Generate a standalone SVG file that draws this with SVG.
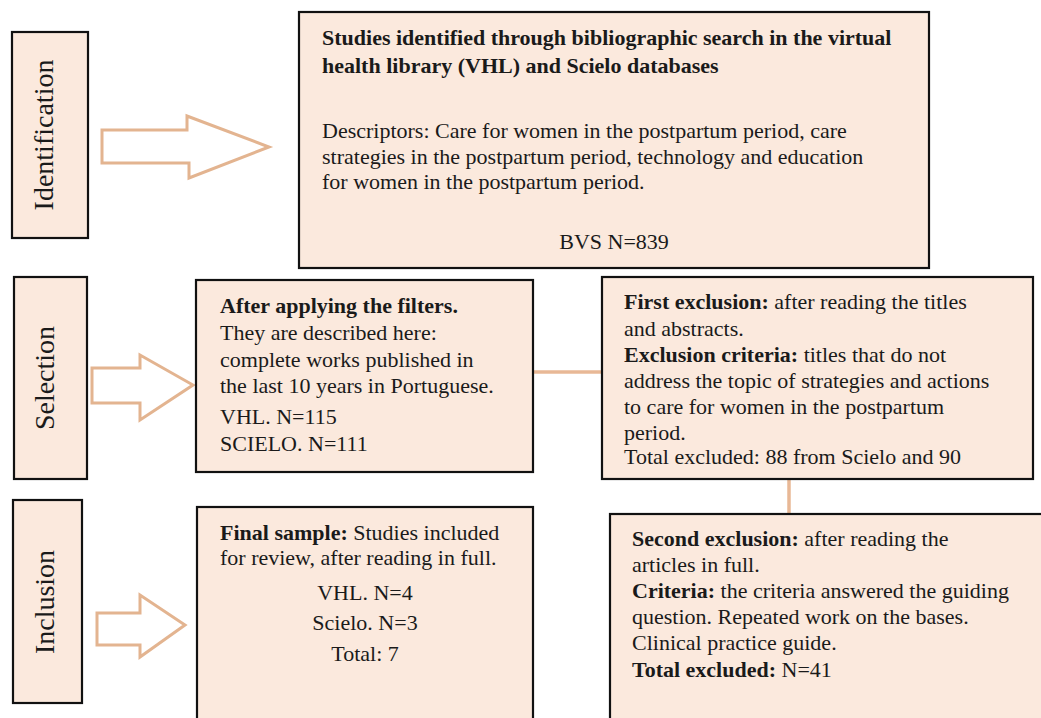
<svg xmlns="http://www.w3.org/2000/svg" width="1041" height="718" viewBox="0 0 1041 718">
<defs>
<filter id="soft" x="-10%" y="-10%" width="120%" height="120%"><feGaussianBlur stdDeviation="0.7"/></filter>
</defs>
<style>
.box{fill:#fbe9dd;stroke:#111;stroke-width:2.2}
.arrow{fill:#fff;stroke:#e3b490;stroke-width:3;stroke-linejoin:miter;filter:url(#soft)}
.conn{stroke:#e8b896;stroke-width:3.5;fill:none}
text{font-family:"Liberation Serif","Times New Roman",serif;fill:#1a1a1a;font-size:22px}
.lbl{font-size:28px;text-anchor:middle}
.b{font-weight:bold}
.c{text-anchor:middle}
</style>
<rect width="1041" height="718" fill="#fff"/>
<g id="connectors">
<line class="conn" x1="533" y1="372" x2="602" y2="372"/>
<line class="conn" x1="789" y1="480" x2="789" y2="513"/>
</g>
<g id="arrows">
<polygon class="arrow" points="102,130 187,130 187,116 269,147 189,178 189,163 102,163"/>
<polygon class="arrow" points="92,368 140,368 140,355 193,385 140,420 140,403 92,403"/>
<polygon class="arrow" points="97,613 140,613 140,595 185,625 140,657 140,645 97,645"/>
</g>
<g id="label-identification">
<rect class="box" x="12" y="32" width="76" height="206"/>
<text class="lbl" transform="translate(53,135) rotate(-90)">Identification</text>
</g>
<g id="label-selection">
<rect class="box" x="14" y="277" width="73" height="202"/>
<text class="lbl" transform="translate(54,378) rotate(-90)">Selection</text>
</g>
<g id="label-inclusion">
<rect class="box" x="13" y="500" width="69" height="203"/>
<text class="lbl" transform="translate(54,602) rotate(-90)">Inclusion</text>
</g>
<g id="identification-box">
<rect class="box" x="299" y="12" width="630" height="256"/>
<text class="b" x="322" y="45">Studies identified through bibliographic search in the virtual</text>
<text class="b" x="322" y="73">health library (VHL) and Scielo databases</text>
<text x="322" y="138">Descriptors: Care for women in the postpartum period, care</text>
<text x="322" y="164">strategies in the postpartum period, technology and education</text>
<text x="322" y="189">for women in the postpartum period.</text>
<text class="c" x="614" y="249">BVS N=839</text>
</g>
<g id="selection-box">
<rect class="box" x="196" y="280" width="337" height="192"/>
<text class="b" x="220" y="313">After applying the filters.</text>
<text x="220" y="340">They are described here:</text>
<text x="220" y="367">complete works published in</text>
<text x="220" y="393">the last 10 years in Portuguese.</text>
<text x="220" y="424">VHL. N=115</text>
<text x="220" y="451">SCIELO. N=111</text>
</g>
<g id="first-exclusion">
<rect class="box" x="602" y="277" width="431" height="202"/>
<text x="624" y="309"><tspan class="b">First exclusion:</tspan> after reading the titles</text>
<text x="624" y="336">and abstracts.</text>
<text x="624" y="362"><tspan class="b">Exclusion criteria:</tspan> titles that do not</text>
<text x="624" y="388">address the topic of strategies and actions</text>
<text x="624" y="414">to care for women in the postpartum</text>
<text x="624" y="440">period.</text>
<text x="624" y="464">Total excluded: 88 from Scielo and 90</text>
</g>
<g id="final-sample">
<rect class="box" x="197" y="507" width="336" height="220"/>
<text x="220" y="540"><tspan class="b">Final sample:</tspan> Studies included</text>
<text x="220" y="565">for review, after reading in full.</text>
<text class="c" x="365" y="600">VHL. N=4</text>
<text class="c" x="365" y="630">Scielo. N=3</text>
<text class="c" x="365" y="661">Total: 7</text>
</g>
<g id="second-exclusion">
<rect class="box" x="610" y="514" width="440" height="220"/>
<text x="632" y="546"><tspan class="b">Second exclusion:</tspan> after reading the</text>
<text x="632" y="572">articles in full.</text>
<text x="632" y="598"><tspan class="b">Criteria:</tspan> the criteria answered the guiding</text>
<text x="632" y="624">question. Repeated work on the bases.</text>
<text x="632" y="650">Clinical practice guide.</text>
<text x="632" y="677"><tspan class="b">Total excluded:</tspan> N=41</text>
</g>
</svg>
